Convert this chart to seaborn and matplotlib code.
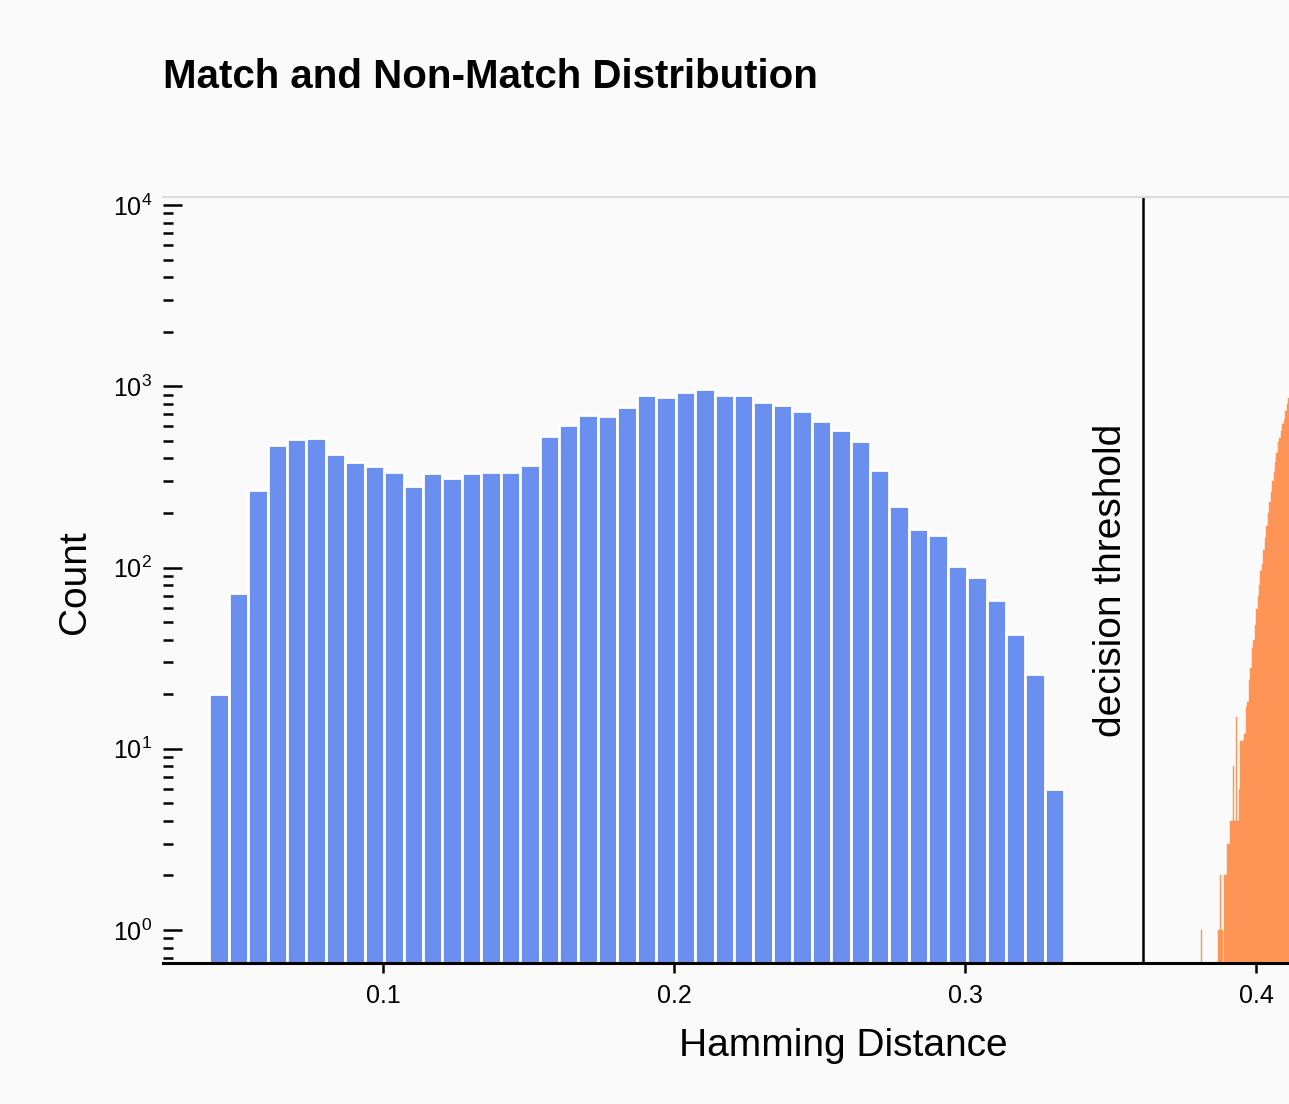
import numpy as np
import pandas as pd
import matplotlib
matplotlib.use("Agg")
import matplotlib.pyplot as plt
import seaborn as sns

# Match (genuine) histogram: 44 bins, counts
match_start = 0.0403
match_width = 0.006677
match_counts = [20, 72, 266, 474, 510, 515, 424, 383, 363, 337,
                282, 334, 311, 331, 337, 337, 370, 532, 613, 692,
                682, 770, 895, 869, 925, 967, 895, 895, 816, 785,
                730, 647, 575, 500, 347, 218, 163, 152, 102, 89,
                66, 43, 26, 6]

# Non-match (impostor) histogram: fine bins, only the left tail is visible
nonmatch_start = 0.3805
nonmatch_width = 0.0005
nonmatch_counts = [0, 1, 0, 0, 0, 0, 0, 0, 0, 0,
                   0, 0, 0, 1, 2, 1, 0, 2, 2, 3,
                   3, 4, 4, 8, 4, 15, 4, 6, 11, 11,
                   11, 12, 17, 18, 24, 28, 36, 40, 48, 59,
                   70, 80, 96, 105, 125, 145, 170, 200, 230, 260,
                   300, 336, 380, 430, 490, 520, 570, 620, 650, 730,
                   800, 860]

threshold = 0.3612
x_ticks = [0.1, 0.2, 0.3, 0.4]
x_tick_labels = ["0.1", "0.2", "0.3", "0.4"]

blue = "#6a8fef"
orange = "#fe9556"
bg = "#fafafa"

sns.set_theme(style="ticks")
plt.rcParams["font.family"] = ["Liberation Sans", "DejaVu Sans"]
plt.rcParams["mathtext.fontset"] = "custom"
plt.rcParams["mathtext.rm"] = "Liberation Sans"
plt.rcParams["mathtext.it"] = "Liberation Sans:italic"
plt.rcParams["mathtext.bf"] = "Liberation Sans:bold"
plt.rcParams["text.color"] = "black"
plt.rcParams["axes.labelcolor"] = "black"
plt.rcParams["xtick.color"] = "black"
plt.rcParams["ytick.color"] = "black"

fig = plt.figure(figsize=(12.89, 11.04), dpi=100, facecolor=bg)
ax = fig.add_axes([163 / 1289, 141 / 1104, 1 - 163 / 1289, 766 / 1104])
ax.set_facecolor(bg)

m_edges = match_start + match_width * np.arange(len(match_counts) + 1)
df_m = pd.DataFrame({"hd": (m_edges[:-1] + m_edges[1:]) / 2,
                     "count": match_counts})
n_edges = nonmatch_start + nonmatch_width * np.arange(len(nonmatch_counts) + 1)
df_n = pd.DataFrame({"hd": (n_edges[:-1] + n_edges[1:]) / 2,
                     "count": nonmatch_counts})

sns.histplot(data=df_m, x="hd", weights="count", bins=list(m_edges),
             color=blue, alpha=1, edgecolor="white", linewidth=2, ax=ax)
sns.histplot(data=df_n, x="hd", weights="count", bins=list(n_edges),
             color=orange, alpha=1, edgecolor=orange, linewidth=0.3, ax=ax)

ax.set_yscale("log")
ax.set_ylim(0.6576, 11070)
ax.set_xlim(0.0244, 0.4113)

ax.axvline(threshold, color="black", lw=1.8)
ax.text(0.3502, 85, "decision threshold", rotation=90, ha="center",
        va="center", fontsize=28)

ax.set_xticks(x_ticks)
ax.set_xticklabels(x_tick_labels, fontweight="medium")
ax.tick_params(axis="x", direction="out", length=7, width=1.8,
               labelsize=18, pad=8)
ax.tick_params(axis="y", which="major", direction="in", length=14,
               width=1.8, labelsize=18, pad=8)
ax.tick_params(axis="y", which="minor", direction="in", length=7,
               width=1.8)

for s in ["left", "right"]:
    ax.spines[s].set_visible(False)
ax.spines["top"].set_color("#dcdcdc")
ax.spines["top"].set_linewidth(1.5)
ax.spines["bottom"].set_color("black")
ax.spines["bottom"].set_linewidth(2.2)

ax.set_xlabel("Hamming Distance", fontsize=28)
ax.xaxis.label.set_va("center")
ax.xaxis.set_label_coords(0.604, -0.108)
ax.set_ylabel("Count", fontsize=28)
ax.yaxis.label.set_va("center")
ax.yaxis.set_label_coords(-0.078, 0.497)

fig.text(163 / 1289, 1 - 77 / 1104, "Match and Non-Match Distribution",
         ha="left", va="center", fontsize=29, fontweight="bold")

fig.savefig("out.png", dpi=100, facecolor=bg)
